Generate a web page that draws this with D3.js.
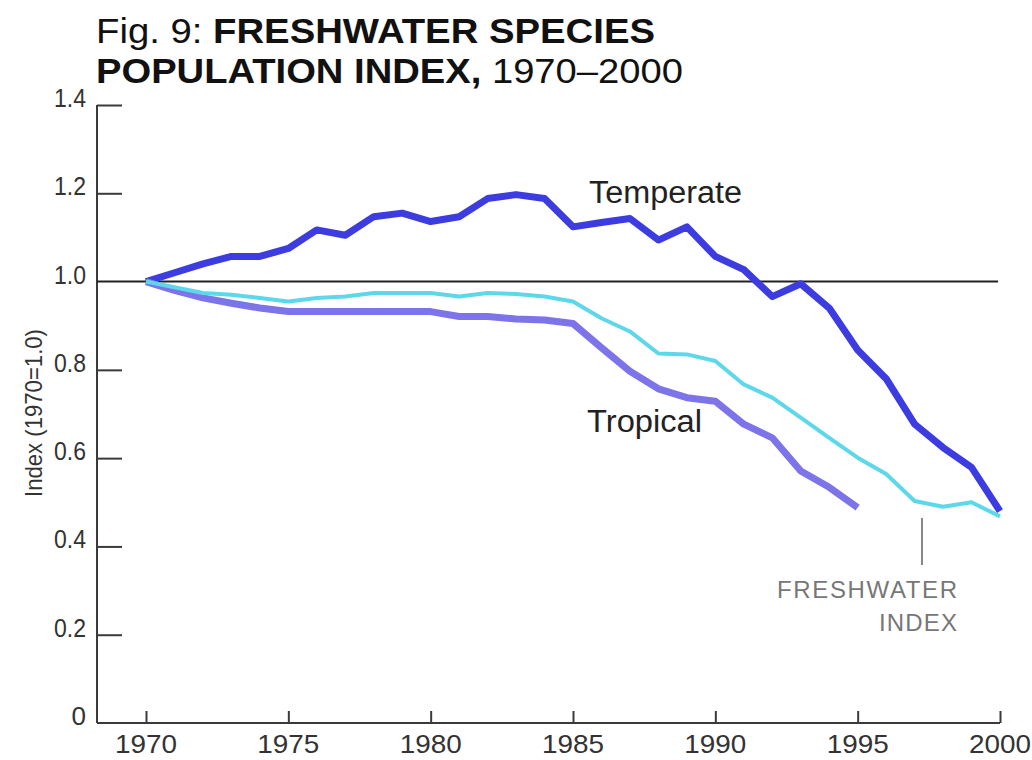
<!DOCTYPE html>
<html>
<head>
<meta charset="utf-8">
<script src="https://cdn.jsdelivr.net/npm/d3@7/dist/d3.min.js"></script>
<style>
  html, body { margin: 0; padding: 0; background: #fff; }
  svg { display: block; font-family: "Liberation Sans", Arial, Helvetica, sans-serif; }
</style>
</head>
<body>
<svg id="chart" width="1032" height="760"></svg>
<script>
// ---- data ----
const years = d3.range(1970, 2001);
const temperate = [1.00, 1.02, 1.04, 1.057, 1.057, 1.075, 1.117, 1.105, 1.147, 1.155,
                   1.136, 1.147, 1.188, 1.197, 1.188, 1.124, 1.134, 1.143, 1.094, 1.124,
                   1.057, 1.027, 0.966, 0.995, 0.94, 0.845, 0.78, 0.677, 0.624, 0.579, 0.48];
const freshwater = [1.00, 0.987, 0.974, 0.97, 0.963, 0.955, 0.963, 0.966, 0.974, 0.974,
                    0.974, 0.966, 0.974, 0.972, 0.966, 0.955, 0.917, 0.887, 0.837, 0.835,
                    0.82, 0.767, 0.737, 0.692, 0.646, 0.601, 0.564, 0.503, 0.49, 0.50, 0.468];
const tropicalYears = d3.range(1970, 1996);
const tropical = [1.00, 0.98, 0.963, 0.951, 0.94, 0.932, 0.932, 0.932, 0.932, 0.932,
                  0.932, 0.921, 0.921, 0.915, 0.913, 0.905, 0.85, 0.797, 0.757, 0.737,
                  0.729, 0.677, 0.646, 0.571, 0.534, 0.488];
const xTickValues = [1970, 1975, 1980, 1985, 1990, 1995, 2000];
const yTickValues = [0, 0.2, 0.4, 0.6, 0.8, 1.0, 1.2, 1.4];
const yTickLabels = ["0", "0.2", "0.4", "0.6", "0.8", "1.0", "1.2", "1.4"];

// ---- layout ----
const svg = d3.select("#chart");
const x = d3.scaleLinear().domain([1970, 2000]).range([146, 1000]);
const y = d3.scaleLinear().domain([0, 1.4]).range([723, 105]);
const axisLeftX = 97;
const axisColor = "#3a3a3a";

// Title
const t1 = svg.append("text").attr("x", 96).attr("y", 43)
  .attr("font-size", 35).attr("fill", "#111");
t1.append("tspan").text("Fig. 9: ");
t1.append("tspan").attr("font-weight", "bold").text("FRESHWATER SPECIES");
t1.attr("textLength", 559).attr("lengthAdjust", "spacingAndGlyphs");

const t2 = svg.append("text").attr("x", 96).attr("y", 83)
  .attr("font-size", 35).attr("fill", "#111");
t2.append("tspan").attr("font-weight", "bold").text("POPULATION INDEX,");
t2.append("tspan").text(" 1970\u20132000");
t2.attr("textLength", 587).attr("lengthAdjust", "spacingAndGlyphs");

// Y axis
const yAxis = d3.axisRight(y).tickValues(yTickValues)
  .tickFormat("").tickSize(25).tickSizeOuter(0);
const gy = svg.append("g").attr("transform", `translate(${axisLeftX},0)`).call(yAxis);
gy.select(".domain").attr("stroke", axisColor).attr("stroke-width", 2)
  .attr("d", `M0,${y(1.4)}V${y(0)}`);
gy.selectAll(".tick line").attr("stroke", axisColor).attr("stroke-width", 2);
gy.selectAll(".tick").filter(d => d === 0 || d === 1.0).select("line").remove();

// Y tick labels
svg.append("g").selectAll("text").data(yTickValues).join("text")
  .attr("x", 86).attr("y", d => y(d) + 2)
  .attr("text-anchor", "end").attr("font-size", 26).attr("fill", "#333")
  .attr("textLength", (d, i) => yTickLabels[i].length > 1 ? 32 : null)
  .attr("lengthAdjust", "spacingAndGlyphs")
  .text((d, i) => yTickLabels[i]);

// X axis
const xAxis = d3.axisTop(x).tickValues(xTickValues).tickFormat("").tickSize(12).tickSizeOuter(0);
const gx = svg.append("g").attr("transform", `translate(0,${y(0)})`).call(xAxis);
gx.select(".domain").attr("stroke", axisColor).attr("stroke-width", 2)
  .attr("d", `M${axisLeftX},0H${x(2000)}`);
gx.selectAll(".tick line").attr("stroke", axisColor).attr("stroke-width", 2);

svg.append("g").selectAll("text").data(xTickValues).join("text")
  .attr("x", d => Math.min(x(d), 1000)).attr("y", 753)
  .attr("text-anchor", "middle").attr("font-size", 26).attr("fill", "#333")
  .attr("textLength", 62).attr("lengthAdjust", "spacingAndGlyphs")
  .text(d => d);

// Y axis title
svg.append("text")
  .attr("transform", `translate(42,${413}) rotate(-90)`)
  .attr("text-anchor", "middle").attr("font-size", 24).attr("fill", "#333")
  .attr("textLength", 168).attr("lengthAdjust", "spacingAndGlyphs")
  .text("Index (1970=1.0)");

// Reference line at 1.0
svg.append("line")
  .attr("x1", axisLeftX).attr("x2", x(2000) - 2)
  .attr("y1", y(1.0)).attr("y2", y(1.0))
  .attr("stroke", "#222").attr("stroke-width", 2);

// Lines
const line = d3.line().x(d => x(d[0])).y(d => y(d[1]));
svg.append("path").datum(years.map((yr, i) => [yr, temperate[i]]))
  .attr("d", line).attr("fill", "none").attr("stroke", "#3c3ce0")
  .attr("stroke-width", 7).attr("stroke-linejoin", "round");
svg.append("path").datum(tropicalYears.map((yr, i) => [yr, tropical[i]]))
  .attr("d", line).attr("fill", "none").attr("stroke", "#7c74e8")
  .attr("stroke-width", 7).attr("stroke-linejoin", "round");
svg.append("path").datum(years.map((yr, i) => [yr, freshwater[i]]))
  .attr("d", line).attr("fill", "none").attr("stroke", "#5cd8ea")
  .attr("stroke-width", 4).attr("stroke-linejoin", "round");

// Labels
svg.append("text").attr("x", 589).attr("y", 203)
  .attr("font-size", 31).attr("fill", "#222")
  .attr("textLength", 153).attr("lengthAdjust", "spacingAndGlyphs").text("Temperate");
svg.append("text").attr("x", 587).attr("y", 432)
  .attr("font-size", 31).attr("fill", "#222")
  .attr("textLength", 115).attr("lengthAdjust", "spacingAndGlyphs").text("Tropical");

svg.append("line").attr("x1", 922).attr("x2", 922).attr("y1", 518).attr("y2", 565)
  .attr("stroke", "#888").attr("stroke-width", 2);
svg.append("text").attr("x", 957).attr("y", 598).attr("text-anchor", "end")
  .attr("font-size", 24).attr("fill", "#777")
  .attr("textLength", 180).attr("lengthAdjust", "spacing").text("FRESHWATER");
svg.append("text").attr("x", 957).attr("y", 631).attr("text-anchor", "end")
  .attr("font-size", 24).attr("fill", "#777")
  .attr("textLength", 78).attr("lengthAdjust", "spacing").text("INDEX");
</script>
</body>
</html>
